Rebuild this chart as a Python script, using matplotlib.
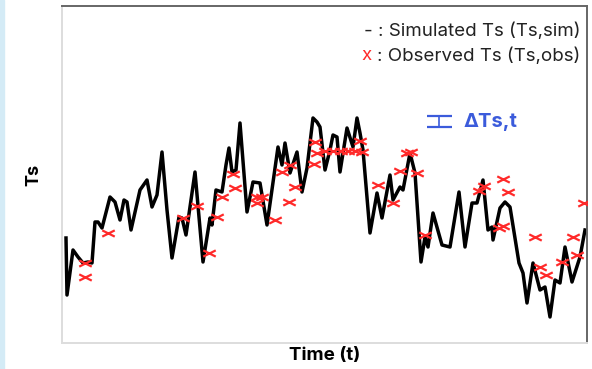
import matplotlib.pyplot as plt
from matplotlib.path import Path
from matplotlib.patches import Rectangle

# simulated surface temperature (arbitrary units)
sim_t = [4, 5, 11, 16, 21, 26, 30, 33, 36, 40, 48, 53, 58, 62, 65, 69, 78, 85, 90, 95,
         100, 105, 110, 117, 120, 124, 133, 141, 148, 150, 154, 160, 164, 167, 170, 174,
         178, 185, 191, 198, 205, 216, 220, 223, 228, 235, 240, 245, 251, 255, 258, 263,
         268, 271, 275, 278, 285, 291, 295, 298, 301, 308, 315, 320, 328, 331, 338, 341,
         348, 353, 359, 363, 366, 371, 380, 388, 397, 403, 410, 415, 421, 426, 430, 431,
         438, 443, 448, 457, 461, 465, 471, 478, 483, 488, 493, 498, 503, 510, 518, 523]
sim_ts = [10.5, 4.8, 9.3, 8.6, 8.0, 8.1, 8.0, 12.1, 12.1, 11.5, 14.6, 14.1, 12.3, 14.3,
          14.1, 11.3, 15.3, 16.3, 13.6, 14.8, 19.1, 13.3, 8.5, 12.6, 12.5, 10.8, 17.1, 8.1,
          12.5, 11.8, 15.3, 15.1, 17.8, 19.5, 17.1, 17.3, 22.0, 13.1, 16.1, 16.0, 11.8,
          19.6, 17.8, 20.0, 17.0, 19.1, 15.1, 17.5, 22.5, 22.1, 21.6, 17.3, 19.3, 20.8,
          20.6, 17.1, 21.5, 19.6, 22.5, 21.0, 19.3, 11.0, 15.0, 12.5, 16.8, 14.3, 15.6,
          15.3, 19.0, 17.0, 8.1, 10.6, 9.6, 13.0, 9.8, 9.6, 15.1, 9.6, 14.0, 14.0, 16.3,
          11.3, 11.6, 10.3, 13.5, 14.1, 13.6, 8.0, 7.0, 4.0, 8.0, 5.3, 5.6, 2.6, 6.3, 6.0,
          9.6, 6.1, 8.6, 11.3]

# observed values
obs_t = [23, 23, 46, 121, 135, 147, 155, 160, 171, 173, 195, 195, 200, 213, 220, 228,
         227, 233, 253, 255, 252, 263, 271, 279, 286, 293, 298, 300, 316, 331, 338, 345,
         349, 355, 363, 417, 422, 441, 446, 437, 441, 473, 478, 484, 500, 511, 515, 522]
obs_ts = [8.0, 6.6, 11.0, 12.5, 13.7, 9.0, 12.6, 14.6, 16.9, 15.5, 14.6, 14.0, 14.6,
          12.3, 17.1, 17.8, 14.1, 15.6, 20.1, 19.0, 17.9, 19.2, 19.2, 19.2, 19.2, 19.2,
          20.2, 19.1, 15.8, 14.0, 17.2, 19.0, 19.1, 17.0, 10.8, 15.2, 15.7, 16.4, 15.1,
          11.5, 11.7, 10.6, 7.6, 6.8, 8.1, 10.6, 8.8, 14.0]

plt.rcParams['font.family'] = ['Inter', 'DejaVu Sans']

fig = plt.figure(figsize=(5.92, 3.69), dpi=100)
fig.patches.append(Rectangle((0, 0), 4 / 592, 1, transform=fig.transFigure,
                             color='#d4ebf6', zorder=0))
ax = fig.add_axes([62 / 592, 26 / 369, 525 / 592, 337 / 369])

# wide, flat cross marker
xmark = Path([(-1, -0.5), (1, 0.5), (-1, 0.5), (1, -0.5)],
             [Path.MOVETO, Path.LINETO, Path.MOVETO, Path.LINETO])

ax.plot(sim_t, sim_ts, color='black', lw=2.5, solid_joinstyle='round', zorder=2)
ax.plot(obs_t, obs_ts, ls='none', marker=xmark, ms=9, mew=1.6, color='#ff2a2a', zorder=3)

ax.set_xlim(0, 525)
ax.set_ylim(0, 33.7)
ax.set_xticks([])
ax.set_yticks([])

for side in ['top', 'right']:
    ax.spines[side].set_color('#666666')
    ax.spines[side].set_linewidth(1.4)
for side in ['left', 'bottom']:
    ax.spines[side].set_color('#dddddd')
    ax.spines[side].set_linewidth(1.4)

ax.set_xlabel('Time (t)', fontsize=13.5, fontweight='bold', labelpad=3)
ax.set_ylabel('Ts', fontsize=13, fontweight='bold', labelpad=14)

# legend written as text
ax.text(0.987, 0.925, '- : Simulated Ts (Ts,sim)', transform=ax.transAxes,
        ha='right', va='center', fontsize=13.5, color='#222222')
obs_txt = ax.text(0.987, 0.852, ': Observed Ts (Ts,obs)', transform=ax.transAxes,
                  ha='right', va='center', fontsize=13.5, color='#222222')
fig.canvas.draw()
bb = obs_txt.get_window_extent().transformed(ax.transAxes.inverted())
ax.text(bb.x0 - 0.01, 0.852, 'x', transform=ax.transAxes,
        ha='right', va='center', fontsize=13.5, color='#ff2a2a')

# error bar key
ax.errorbar([0.719], [0.657], yerr=[0.017], transform=ax.transAxes, color='#3b5bdb',
            capsize=9, capthick=1.6, lw=1.2, fmt='none')
ax.text(0.764, 0.657, 'ΔTs,t', transform=ax.transAxes, ha='left', va='center',
        fontsize=14.5, fontweight='bold', color='#3b5bdb')

fig.savefig('out.png', dpi=100)
